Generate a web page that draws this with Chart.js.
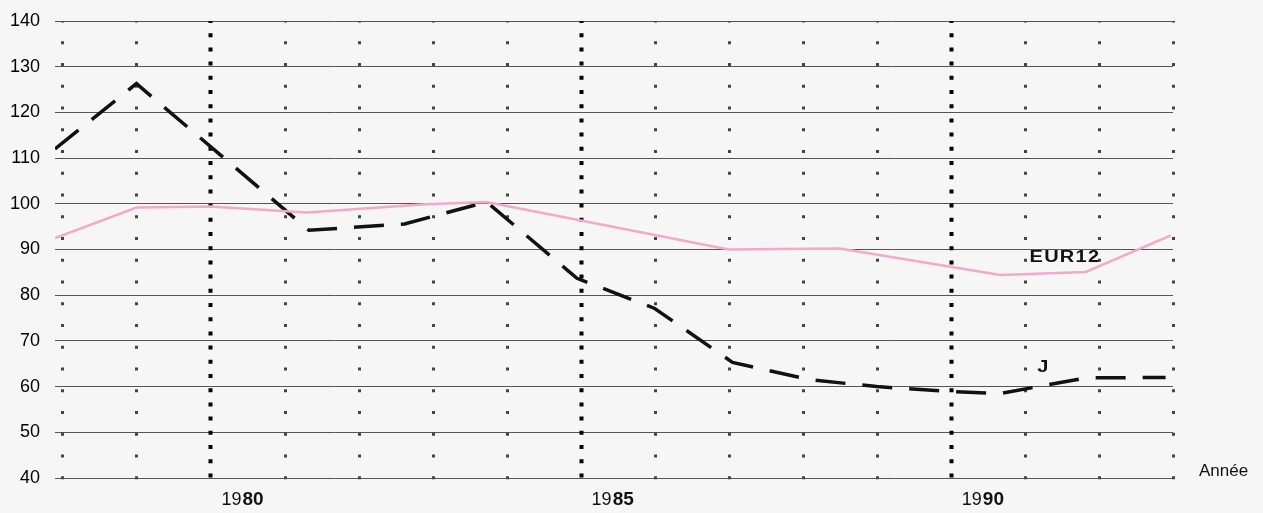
<!DOCTYPE html>
<html>
<head>
<meta charset="utf-8">
<script src="https://cdn.jsdelivr.net/npm/chart.js@4.4.1/dist/chart.umd.min.js"></script>
<style>
  html, body { margin: 0; padding: 0; background: #f6f6f6; }
  #wrap { width: 1263px; height: 513px; position: relative; }
</style>
</head>
<body>
<div id="wrap"><canvas id="chart"></canvas></div>
<script>
// series J (dashed black) - year positions
const jYears  = [1977.9, 1979.0, 1981.33, 1982.62, 1983.73, 1984.95, 1986.0, 1987.05, 1988.1, 1989.0, 1990.0, 1990.67, 1991.82, 1992.9];
const jValues = [112.0, 126.3, 94.2, 95.6, 100.4, 83.7, 77.1, 65.3, 61.5, 60.0, 58.9, 58.5, 61.9, 62.0];

// series EUR12 (pink)
const eurYears  = [1977.9, 1979.0, 1980.0, 1981.3, 1982.9, 1983.73, 1987.0, 1988.5, 1990.67, 1991.82, 1992.97];
const eurValues = [92.5, 99.2, 99.4, 98.1, 99.9, 100.4, 90.0, 90.2, 84.4, 85.1, 93.1];

// axes
const gridYears = [1978, 1979, 1980, 1981, 1982, 1983, 1984, 1985, 1986, 1987, 1988, 1989, 1990, 1991, 1992, 1993];
const majorYears = [1980, 1985, 1990];
const yMin = 40, yMax = 140, yStep = 10;

const toPoints = (xs, ys) => xs.map((x, i) => ({ x: x, y: ys[i] }));

// draws text stretched horizontally around a centre point
function wideText(ctx, txt, cx, cy, sx) {
  ctx.save();
  ctx.translate(cx, cy);
  ctx.scale(sx, 1);
  ctx.fillText(txt, 0, 0);
  ctx.restore();
}

// vertical dotted lines, year labels and the series labels
const decorPlugin = {
  id: 'decor',
  beforeDatasetsDraw(chart) {
    const ctx = chart.ctx, xs = chart.scales.x, area = chart.chartArea;
    ctx.save();
    gridYears.forEach(yr => {
      const px = Math.round(xs.getPixelForValue(yr)) + 0.5;
      const major = majorYears.includes(yr);
      ctx.beginPath();
      ctx.strokeStyle = major ? '#000' : '#444';
      ctx.lineWidth = major ? 4 : 3;
      ctx.setLineDash(major ? [4, 10.2] : [3, 18.75]);
      ctx.lineDashOffset = major ? 2 : 1.5;
      ctx.moveTo(px, area.top);
      ctx.lineTo(px, area.bottom + 2);
      ctx.stroke();
    });
    ctx.restore();
  },
  afterDraw(chart) {
    const ctx = chart.ctx, xs = chart.scales.x, ys = chart.scales.y;
    ctx.save();
    ctx.fillStyle = '#111';
    ctx.textBaseline = 'middle';
    // year labels: "19" regular + last two digits bold
    majorYears.forEach(yr => {
      const s = String(yr);
      const a = s.slice(0, 2), b = s.slice(2);
      ctx.font = '18px "Liberation Sans", Arial, sans-serif';
      const wa = ctx.measureText(a).width + 1;
      ctx.font = 'bold 19px "Liberation Sans", Arial, sans-serif';
      const wb = ctx.measureText(b).width;
      const cx = xs.getPixelForValue(yr) + 32;
      const x0 = cx - (wa + wb) / 2;
      ctx.textAlign = 'left';
      ctx.font = '18px "Liberation Sans", Arial, sans-serif';
      ctx.fillText(a, x0, 500);
      ctx.font = 'bold 19px "Liberation Sans", Arial, sans-serif';
      ctx.fillText(b, x0 + wa, 500);
    });
    // axis title
    ctx.font = '17px "Liberation Sans", Arial, sans-serif';
    ctx.textAlign = 'left';
    ctx.fillText('Année', 1199, 471);
    // series labels
    ctx.textAlign = 'center';
    ctx.font = 'bold 16px "Liberation Sans", Arial, sans-serif';
    ctx.letterSpacing = '1px';
    wideText(ctx, 'EUR12', xs.getPixelForValue(1991.54), ys.getPixelForValue(88.3), 1.25);
    ctx.letterSpacing = '0px';
    wideText(ctx, 'J', xs.getPixelForValue(1991.24), ys.getPixelForValue(64.1), 1.25);
    ctx.restore();
  }
};

new Chart(document.getElementById('chart'), {
  type: 'line',
  data: {
    datasets: [
      {
        label: 'EUR12',
        data: toPoints(eurYears, eurValues),
        borderColor: '#f5a9c7',
        borderWidth: 2.5,
        pointRadius: 0,
        tension: 0
      },
      {
        label: 'J',
        data: toPoints(jYears, jValues),
        borderColor: '#111',
        borderWidth: 3.5,
        borderDash: [30, 17],
        borderCapStyle: 'butt',
        pointRadius: 0,
        tension: 0
      }
    ]
  },
  options: {
    responsive: true,
    maintainAspectRatio: false,
    animation: false,
    layout: { padding: { top: 21, right: 90, bottom: 35, left: 0 } },
    plugins: { legend: { display: false }, tooltip: { enabled: false } },
    scales: {
      x: {
        type: 'linear',
        min: 1977.9,
        max: 1993,
        display: false
      },
      y: {
        min: yMin,
        max: yMax,
        afterFit: (scale) => {
          scale.width = 55;
          scale.paddingTop = 4;
          scale.paddingBottom = 4;
        },
        border: { display: false },
        grid: { color: '#555', lineWidth: 1, drawTicks: false },
        ticks: {
          stepSize: yStep,
          padding: 15,
          color: '#000',
          font: { family: '"Liberation Sans", Arial, sans-serif', size: 18 }
        }
      }
    }
  },
  plugins: [decorPlugin]
});
</script>
</body>
</html>
